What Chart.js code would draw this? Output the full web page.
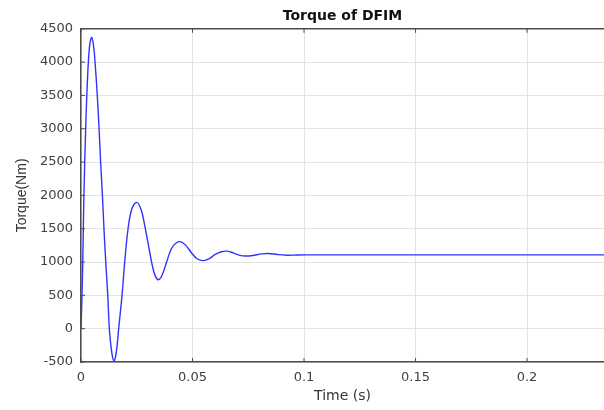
<!DOCTYPE html>
<html>
<head>
<meta charset="utf-8">
<title>Torque of DFIM</title>
<script src="https://cdn.jsdelivr.net/npm/chart.js@4.4.1/dist/chart.umd.min.js"></script>
<style>
  html, body { margin: 0; padding: 0; background: #fff; }
  #wrap { width: 604px; height: 410px; }
</style>
</head>
<body>
<div id="wrap"><canvas id="torqueChart"></canvas></div>
<script>
// time (s) and electromagnetic torque (Nm)
const timeS = [
  0, 0.0004, 0.0008, 0.0013, 0.0021, 0.0026, 0.0033, 0.004, 0.0048, 0.0056,
  0.0063, 0.0073, 0.0081, 0.0088, 0.0096, 0.0103, 0.0111, 0.012, 0.0127, 0.0134,
  0.0141, 0.0148, 0.0155, 0.0162, 0.0169, 0.0184, 0.0196, 0.0211, 0.0228, 0.025,
  0.027, 0.0288, 0.0318, 0.0332, 0.0347, 0.0362, 0.0384, 0.0405, 0.0428, 0.0448,
  0.047, 0.0495, 0.052, 0.0548, 0.0575, 0.06, 0.063, 0.0656, 0.0685, 0.0712,
  0.074, 0.077, 0.081, 0.084, 0.088, 0.092, 0.097, 0.105, 0.15, 0.2, 0.2345
];
const torqueNm = [
  0, 450, 1000, 2000, 3000, 3500, 4000, 4280, 4370, 4250,
  4000, 3500, 3000, 2500, 2000, 1500, 1000, 500, 0, -250,
  -420, -480, -420, -250, 0, 500, 1000, 1500, 1800, 1895,
  1780, 1510, 975, 800, 735, 790, 1000, 1200, 1290, 1303,
  1250, 1140, 1050, 1021, 1050, 1110, 1155, 1163, 1135, 1100,
  1090, 1098, 1122, 1128, 1113, 1103, 1106, 1108, 1108, 1108, 1108
];
const xTicks = [0, 0.05, 0.1, 0.15, 0.2];
const yTicks = [-500, 0, 500, 1000, 1500, 2000, 2500, 3000, 3500, 4000, 4500];

const points = timeS.map((t, i) => ({ x: t, y: torqueNm[i] }));
const axisColor = '#4d4d4d';
const wideFont = '"DejaVu Sans", Verdana, sans-serif';
const plainFont = '"Liberation Sans", Arial, Helvetica, sans-serif';

// MATLAB-like box: top border plus small inward tick marks
const boxPlugin = {
  id: 'matlabBox',
  afterDraw(chart) {
    const { ctx, chartArea: a, scales } = chart;
    ctx.save();
    ctx.strokeStyle = axisColor;
    ctx.lineWidth = 1.5;
    ctx.beginPath();
    ctx.moveTo(a.left, a.top);
    ctx.lineTo(a.right, a.top);
    ctx.stroke();
    ctx.lineWidth = 1;
    ctx.beginPath();
    xTicks.forEach(v => {
      const px = scales.x.getPixelForValue(v);
      ctx.moveTo(px, a.bottom); ctx.lineTo(px, a.bottom - 4);
      ctx.moveTo(px, a.top); ctx.lineTo(px, a.top + 4);
    });
    yTicks.forEach(v => {
      const py = scales.y.getPixelForValue(v);
      ctx.moveTo(a.left, py); ctx.lineTo(a.left + 4, py);
    });
    ctx.stroke();
    ctx.restore();
  }
};

new Chart(document.getElementById('torqueChart'), {
  type: 'line',
  data: {
    datasets: [{
      label: 'Torque',
      data: points,
      borderColor: 'rgb(50,50,255)',
      borderWidth: 1.4,
      pointRadius: 0,
      fill: false,
      tension: 0.35
    }]
  },
  options: {
    responsive: true,
    maintainAspectRatio: false,
    animation: false,
    layout: { padding: 0 },
    plugins: {
      legend: { display: false },
      tooltip: { enabled: false },
      title: {
        display: true,
        fullSize: false,
        text: 'Torque of DFIM',
        color: '#111',
        font: { family: wideFont, size: 14, weight: 'bold' },
        padding: { top: 8, bottom: 4 }
      }
    },
    scales: {
      x: {
        type: 'linear',
        min: 0,
        max: 0.2345,
        afterFit(scale) { scale.height = 48; },
        afterBuildTicks(scale) { scale.ticks = xTicks.map(v => ({ value: v })); },
        border: { color: axisColor, width: 1.5 },
        grid: { color: '#e3e3e3', drawTicks: false },
        ticks: {
          includeBounds: false,
          padding: 8,
          color: '#404040',
          font: { family: wideFont, size: 13 },
          callback: v => String(v)
        },
        title: {
          display: true,
          text: 'Time (s)',
          color: '#333',
          font: { family: wideFont, size: 14 },
          padding: { top: 0, bottom: 5 }
        }
      },
      y: {
        type: 'linear',
        min: -500,
        max: 4500,
        afterFit(scale) { scale.width = 81; },
        afterBuildTicks(scale) { scale.ticks = yTicks.map(v => ({ value: v })); },
        border: { color: axisColor, width: 1.5 },
        grid: { color: '#e3e3e3', drawTicks: false },
        ticks: {
          padding: 8,
          color: '#404040',
          font: { family: wideFont, size: 13 },
          callback: v => String(v)
        },
        title: {
          display: true,
          text: 'Torque(Nm)',
          color: '#333',
          font: { family: plainFont, size: 14 },
          padding: { top: 14, bottom: 0 }
        }
      }
    }
  },
  plugins: [boxPlugin]
});
</script>
</body>
</html>
